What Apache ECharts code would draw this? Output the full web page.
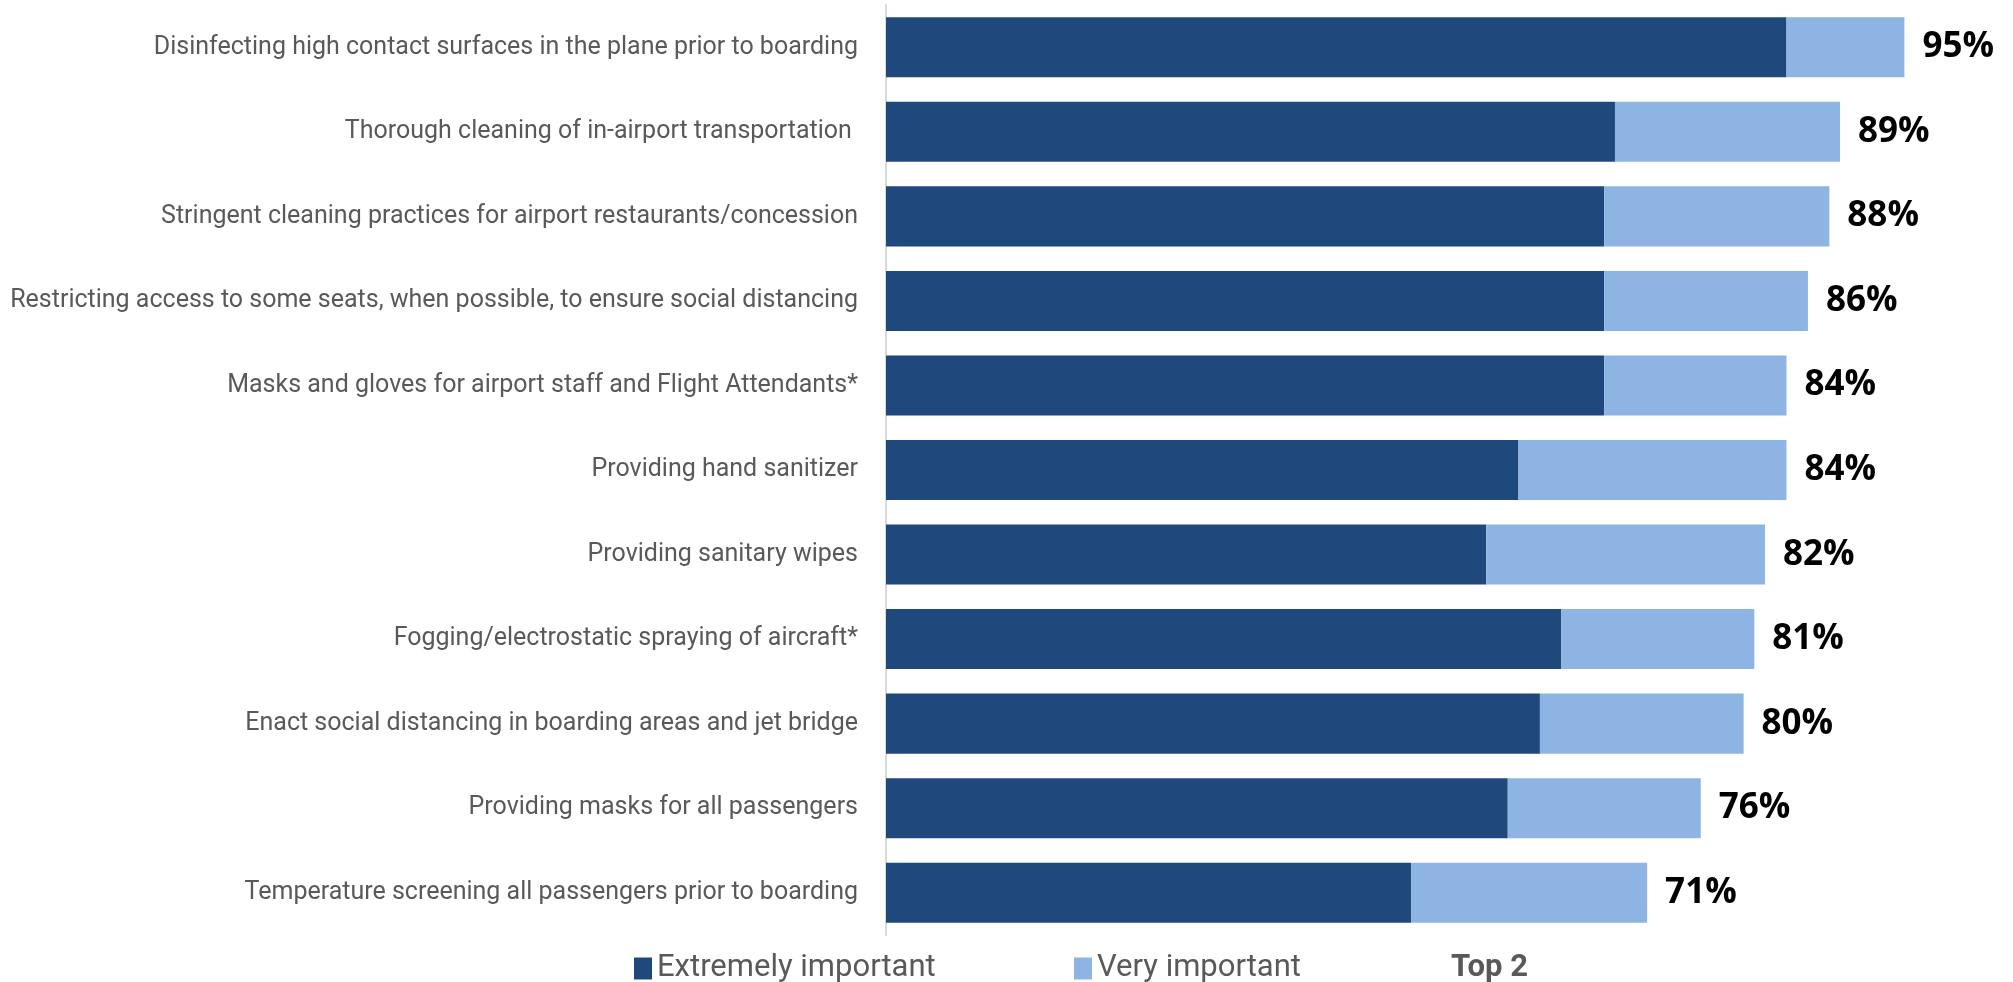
<!DOCTYPE html>
<html>
<head>
<meta charset="utf-8">
<title>Importance of cleaning and safety measures</title>
<script src="https://cdn.jsdelivr.net/npm/echarts@6/dist/echarts.min.js"></script>
<style>
  html, body { margin: 0; padding: 0; background: #ffffff; }
  #chart { width: 2013px; height: 982px; }
</style>
</head>
<body>
<div id="chart"></div>
<script>
// Measures, listed top to bottom
const categories = [
  'Disinfecting high contact surfaces in the plane prior to boarding',
  'Thorough cleaning of in-airport transportation ',
  'Stringent cleaning practices for airport restaurants/concession',
  'Restricting access to some seats, when possible, to ensure social distancing',
  'Masks and gloves for airport staff and Flight Attendants*',
  'Providing hand sanitizer',
  'Providing sanitary wipes',
  'Fogging/electrostatic spraying of aircraft*',
  'Enact social distancing in boarding areas and jet bridge',
  'Providing masks for all passengers',
  'Temperature screening all passengers prior to boarding'
];
// Share of respondents (%)
const extremelyImportant = [84, 68, 67, 67, 67, 59, 56, 63, 61, 58, 49];
const veryImportant      = [11, 21, 21, 19, 17, 25, 26, 18, 19, 18, 22];
const top2               = [95, 89, 88, 86, 84, 84, 82, 81, 80, 76, 71];

const DARK = '#1F497D';
const LIGHT = '#8EB4E3';
const TEXT = '#595959';

const chart = echarts.init(document.getElementById('chart'), null, { renderer: 'canvas' });

const legendText = { color: TEXT, fontFamily: 'Roboto', fontSize: 31 };
const legendBase = { top: 948, itemWidth: 18, itemHeight: 22, itemGap: 0, icon: 'rect', selectedMode: false };

chart.setOption({
  animation: false,
  backgroundColor: '#ffffff',
  grid: { left: 886, right: 55, top: 5, bottom: 47, containLabel: false },
  legend: [
    Object.assign({ data: ['Extremely important'], left: 629, textStyle: legendText }, legendBase),
    Object.assign({ data: ['Very important'], left: 1069, textStyle: legendText }, legendBase),
    Object.assign({
      data: [{ name: 'Top 2', itemStyle: { color: 'rgba(0,0,0,0)' } }], left: 1423,
      textStyle: Object.assign({}, legendText, { fontWeight: 'bold' })
    }, legendBase)
  ],
  xAxis: {
    type: 'value', min: 0, max: 100,
    show: false
  },
  yAxis: {
    type: 'category',
    data: categories,
    inverse: true,
    axisLine: { show: true, lineStyle: { color: '#d9d9d9', width: 2 } },
    axisTick: { show: false },
    axisLabel: { color: TEXT, fontFamily: 'Roboto', fontSize: 25, margin: 28 }
  },
  series: [
    {
      name: 'Extremely important', type: 'bar', stack: 'total',
      data: extremelyImportant, barCategoryGap: '29%', barGap: '-100%',
      itemStyle: { color: DARK }, silent: true
    },
    {
      name: 'Very important', type: 'bar', stack: 'total',
      data: veryImportant,
      itemStyle: { color: LIGHT }, silent: true
    },
    {
      name: 'Top 2', type: 'bar',
      data: top2, barGap: '-100%',
      itemStyle: { color: 'rgba(0,0,0,0)' }, silent: true, z: 1,
      label: {
        show: true, position: 'right', distance: 18,
        formatter: '{c}%', color: '#000000',
        fontFamily: 'Open Sans', fontWeight: 'bold', fontSize: 35
      }
    }
  ]
});
</script>
</body>
</html>
